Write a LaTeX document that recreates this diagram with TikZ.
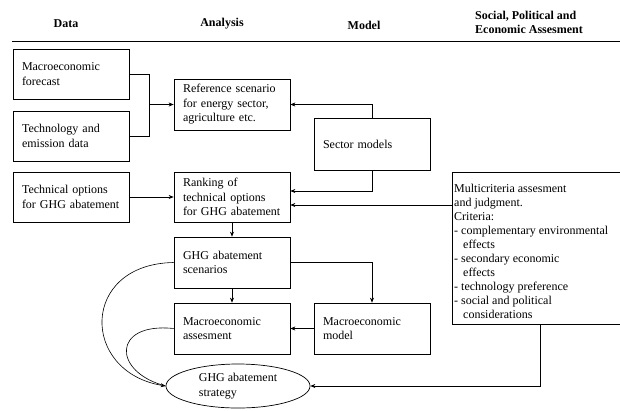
\documentclass[tikz,border=0pt]{standalone}
\usepackage{fontspec}
\setmainfont{Liberation Serif}
\usetikzlibrary{shapes.geometric,arrows.meta,calc}
\begin{document}
\begin{tikzpicture}[x=1pt,y=-1pt,
  font=\fontsize{12}{14.5}\selectfont,
  box/.style={draw, line width=0.7pt, minimum width=116pt, minimum height=50pt,
    text width=98pt, align=left, inner sep=0pt},
  arr/.style={-{Stealth[length=5pt,width=4pt]}, line width=0.6pt},
  ln/.style={line width=0.6pt},
  hd/.style={font=\fontsize{12}{14}\selectfont\bfseries, inner sep=0pt}]
\clip (0,0) rectangle (620,410);
% headers
\node[hd] (hdata) at (66,24) {Data};
\node[hd] (hana) at (222,24) {Analysis};
\node[hd] (hmod) at (364,25) {Model};
\node[hd, align=left, anchor=west] (hsoc) at (475,22) {Social, Political and\\Economic Assesment};
\coordinate (hl1) at (12,41);
\coordinate (hl2) at (620,41);
\draw[ln] (hl1) -- (hl2);
% boxes
\node[box] (mf) at (71,74) {Macroeconomic\\forecast};
\node[box] (tech) at (71,136) {Technology and\\emission data};
\node[box] (tox) at (71,197) {Technical options\\for GHG abatement};
\node[box, minimum height=51pt] (ref) at (232,104.5) {Reference scenario\\for energy sector,\\agriculture etc.};
\node[box] (rank) at (232,197) {Ranking of\\technical options\\for GHG abatement};
\node[box, minimum height=51pt] (scen) at (232,262.5) {GHG abatement\\scenarios};
\node[box, minimum height=51pt] (ass) at (232,328.5) {Macroeconomic\\assesment};
\node[box, minimum height=52pt] (sm) at (372,144) {Sector models};
\node[box, minimum height=51pt] (mm) at (372,328.5) {Macroeconomic\\model};
\node[draw, ellipse, line width=0.7pt, minimum width=144pt, minimum height=44pt,
  inner sep=0pt, align=left] (strat) at (238,386) {GHG abatement\\strategy};
\node[draw, line width=0.7pt, anchor=north west, minimum width=175pt,
  minimum height=152pt, inner sep=0pt] (mc) at (452,172) {};
\node[anchor=north west, align=left, inner sep=0pt,
  font=\fontsize{12}{14}\selectfont] (mctext) at (454,183.5)
  {Multicriteria assesment\\and judgment.\\Criteria:\\- complementary environmental\\\hspace*{9pt}effects\\- secondary economic\\\hspace*{9pt}effects\\- technology preference\\- social and political\\\hspace*{9pt}considerations};
% connectors
\coordinate (j) at (149,104.5);
\draw[ln] (mf.east) -| (j);
\draw[ln] (tech.east) -| (j);
\draw[arr] (j) -- (ref.west);
\draw[arr] (tox.east) -- (rank.west);
\draw[arr] (sm.north) |- (ref.east);
\coordinate (rk1) at ($(rank.east)+(0,-6)$);
\coordinate (rk2) at ($(rank.east)+(0,8)$);
\draw[arr] (sm.south) |- (rk1);
\draw[arr] (mc.west |- rk2) -- (rk2);
\draw[arr] (rank.south) -- (scen.north);
\draw[arr] (scen.south) -- (ass.north);
\draw[arr] (scen.east) -| (mm.north);
\draw[arr] (mm.west) -- (ass.east);
\draw[arr] (mc.south) |- (strat.east);
\draw[arr] (scen.west) .. controls (80,264) and (80,372) .. (strat.west);
\draw[ln] (ass.west) .. controls (112,322) and (112,372) .. (strat.west);
\end{tikzpicture}
\end{document}
